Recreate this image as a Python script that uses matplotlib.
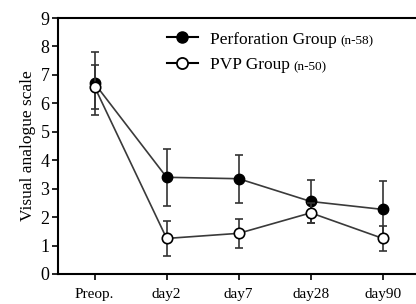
import matplotlib
matplotlib.use("Agg")
import matplotlib.pyplot as plt
from matplotlib.lines import Line2D

categories = ["Preop.", "day2", "day7", "day28", "day90"]
perf_mean = [6.7, 3.4, 3.35, 2.55, 2.27]
perf_err = [1.1, 1.0, 0.85, 0.75, 1.0]
pvp_mean = [6.58, 1.25, 1.43, 2.15, 1.25]
pvp_err = [0.78, 0.62, 0.5, 0.35, 0.43]
labels = ["Perforation Group", "PVP Group"]
ns = ["(n-58)", "(n-50)"]

plt.rcParams['font.family'] = ['Liberation Serif', 'DejaVu Serif']
fig = plt.figure(figsize=(4.16, 3.04), dpi=100)
ax = fig.add_axes([0.139, 0.0987, 0.861, 0.842])
x = list(range(len(categories)))
lc = '#3a3a3a'
ax.errorbar(x, perf_mean, yerr=perf_err, color=lc, lw=1.2, marker='o', ms=7.5,
            mfc='black', mec='black', ecolor='#333333', elinewidth=1.2, capsize=3, capthick=1.2,
            zorder=3)
ax.errorbar(x, pvp_mean, yerr=pvp_err, color=lc, lw=1.2, marker='o', ms=7.5,
            mfc='white', mec='black', mew=1.2, ecolor='#333333', elinewidth=1.2, capsize=3, capthick=1.2,
            zorder=4)
ax.set_xlim(-0.51, 4.46)
ax.set_ylim(0, 9)
ax.set_yticks(range(10))
ax.set_xticks(x)
ax.set_xticklabels(categories, fontsize=11)
ax.tick_params(axis='y', labelsize=13, direction='out', length=4, width=1.2, pad=2)
ax.tick_params(axis='x', direction='out', length=4, width=1.2, pad=6)
ax.set_ylabel("Visual analogue scale", fontsize=12.5, labelpad=3)
ax.spines['right'].set_visible(False)
for s in ['left', 'bottom', 'top']:
    ax.spines[s].set_linewidth(1.5)

handles = [Line2D([], [], color='black', lw=1.5, marker='o', ms=8, mfc='black', mec='black'),
           Line2D([], [], color='black', lw=1.5, marker='o', ms=8, mfc='white', mec='black', mew=1.3)]
leg = ax.legend(handles, labels, loc='upper left', bbox_to_anchor=(0.285, 0.975), frameon=False, fontsize=12.5,
                handlelength=1.8, handletextpad=0.7, labelspacing=0.55, borderaxespad=0)
fig.canvas.draw()
inv = fig.transFigure.inverted()
for t, n in zip(leg.get_texts(), ns):
    bb = t.get_window_extent()
    p = inv.transform((bb.x1 + 3, bb.y0 + 3))
    fig.text(p[0], p[1], n, fontsize=9.5, ha='left', va='baseline')

fig.savefig("out.png", dpi=100)
